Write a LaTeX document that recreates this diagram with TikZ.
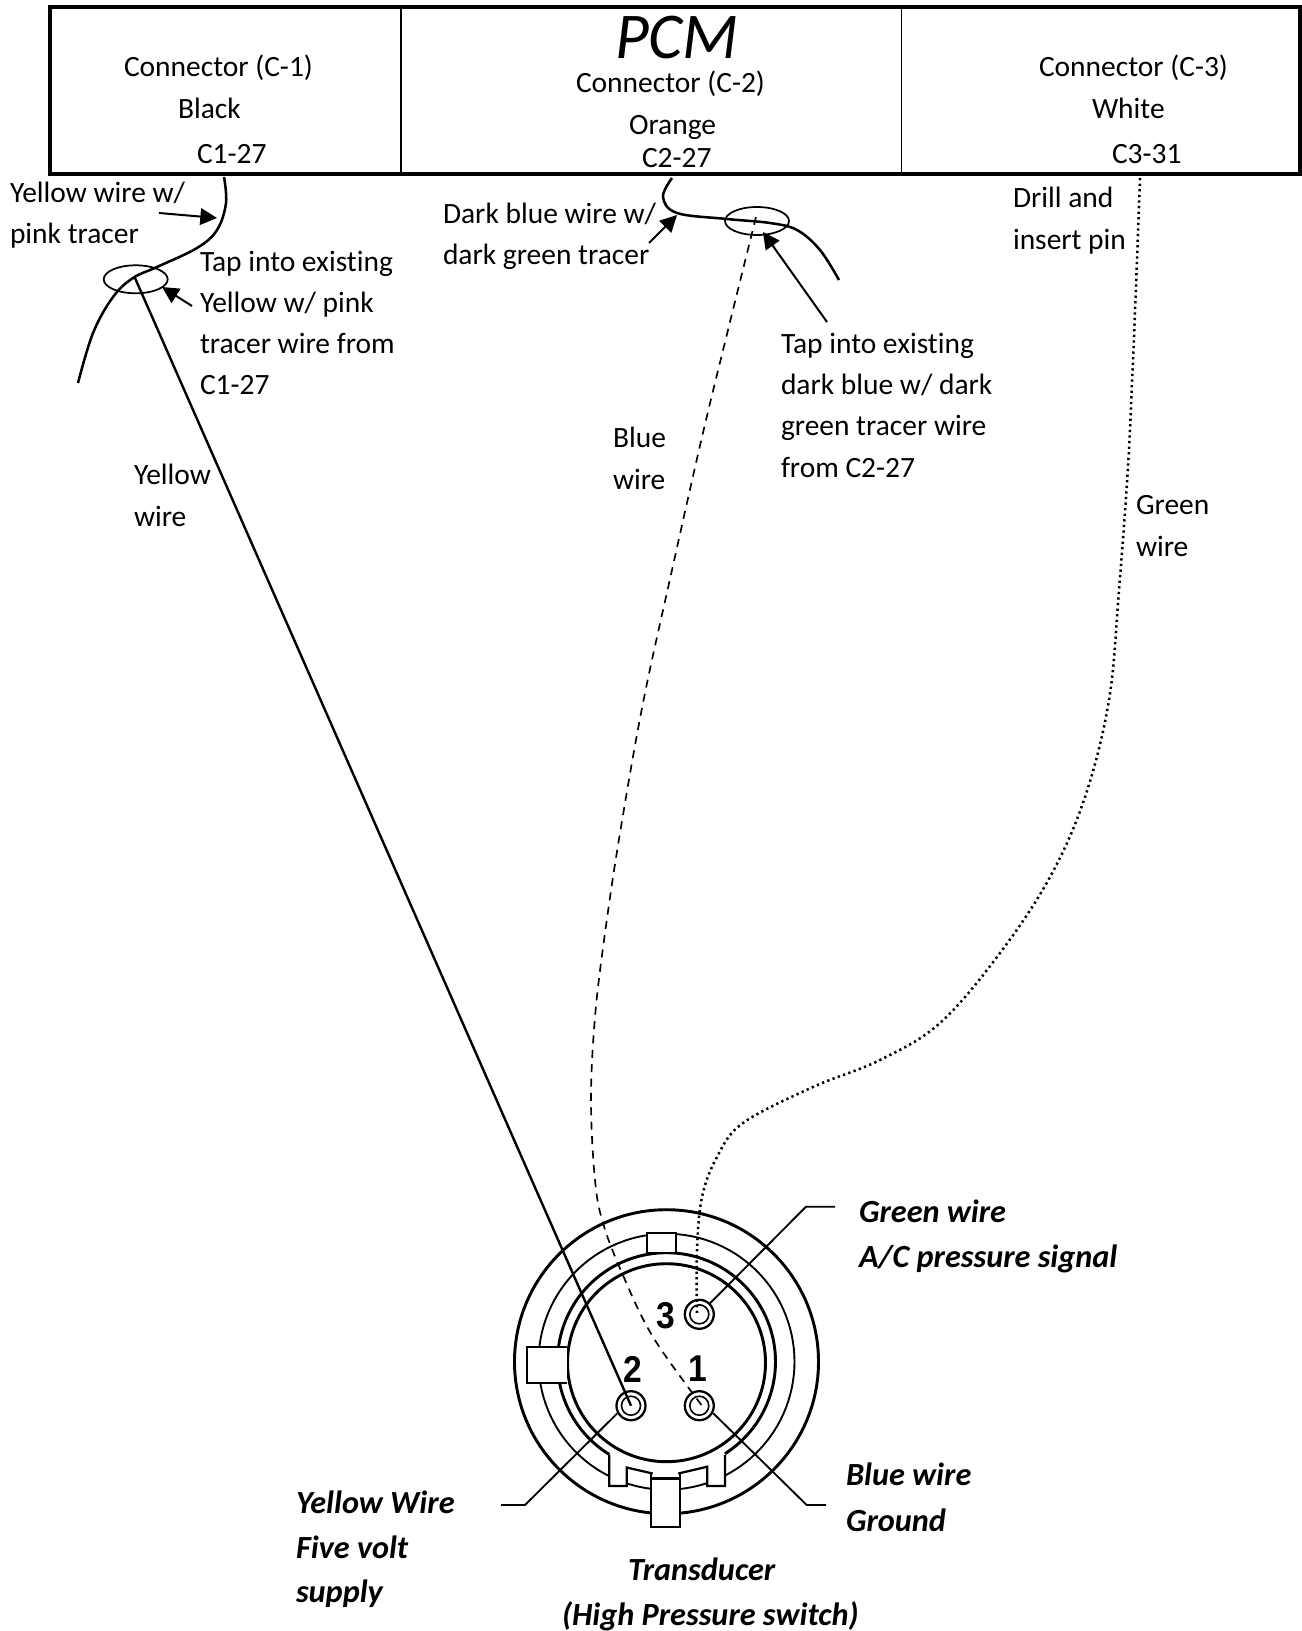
\documentclass[tikz,border=0pt]{standalone}
\usepackage{fontspec}
\setmainfont[Ligatures=NoCommon]{Carlito}
\newfontfamily\digitfont{Liberation Sans}
\usetikzlibrary{arrows.meta}
\tikzset{
  x=0.75pt,y=-0.75pt,
  lbl/.style={anchor=base west,inner sep=0pt,outer sep=0pt,font=\fontsize{22.1pt}{26pt}\selectfont},
  lblbi/.style={anchor=base west,inner sep=0pt,outer sep=0pt,font=\fontsize{24.2pt}{28pt}\selectfont\bfseries\itshape},
  titlelbl/.style={anchor=base west,inner sep=0pt,outer sep=0pt,font=\fontsize{49pt}{54pt}\selectfont\itshape},
  digit/.style={inner sep=0pt,outer sep=0pt,xscale=0.9,font=\fontsize{28pt}{30pt}\digitfont\bfseries},
  wire/.style={line width=1.9pt,line cap=butt},
  dashwire/.style={line width=1.25pt,dash pattern=on 6pt off 4.8pt},
  dotwire/.style={line width=1.9pt,dash pattern=on 1.7pt off 2.5pt},
  pointer/.style={line width=1.5pt,-{Triangle[length=12.5pt,width=12.5pt]}},
  loopmark/.style={line width=1.3pt},
  ringthick/.style={line width=2.2pt},
  ringthin/.style={line width=1.4pt},
  lead/.style={line width=1.4pt},
  tab/.style={line width=1.7pt,fill=white},
}
\begin{document}
\begin{tikzpicture}
\useasboundingbox (0,0) rectangle (1302,1631);
\fill[white] (0,0) rectangle (1302,1631);
% PCM box
\draw[line width=1.2pt] (401,7) -- (401,174);
\draw[line width=1.2pt] (901.5,7) -- (901.5,174);
\draw[line width=3pt] (50,7) rectangle (1300,174);
\node[titlelbl] (pcm) at (615,58) {PCM};
\node[lbl] (c1a) at (124,76) {Connector (C-1)};
\node[lbl] (c1b) at (178,118) {Black};
\node[lbl] (c1c) at (197,163) {C1-27};
\node[lbl] (c2a) at (576,92) {Connector (C-2)};
\node[lbl] (c2b) at (629,134) {Orange};
\node[lbl] (c2c) at (642,167) {C2-27};
\node[lbl] (c3a) at (1039,76) {Connector (C-3)};
\node[lbl] (c3b) at (1092,118) {White};
\node[lbl] (c3c) at (1112,163) {C3-31};
% free labels
\node[lbl] (ya) at (10,202) {Yellow wire w/};
\node[lbl] (yb) at (10,243) {pink tracer};
\node[lbl] (ta1) at (200,271) {Tap into existing};
\node[lbl] (ta2) at (200,312) {Yellow w/ pink};
\node[lbl] (ta3) at (200,353) {tracer wire from};
\node[lbl] (ta4) at (200,394) {C1-27};
\node[lbl] (da) at (443,223) {Dark blue wire w/};
\node[lbl] (db) at (443,264) {dark green tracer};
\node[lbl] (tb1) at (781,353) {Tap into existing};
\node[lbl] (tb2) at (781,394) {dark blue w/ dark};
\node[lbl] (tb3) at (781,435) {green tracer wire};
\node[lbl] (tb4) at (781,477) {from C2-27};
\node[lbl] (bw1) at (613,447) {Blue};
\node[lbl] (bw2) at (613,489) {wire};
\node[lbl] (yw1) at (134,484) {Yellow};
\node[lbl] (yw2) at (134,526) {wire};
\node[lbl] (dr1) at (1013,207) {Drill and};
\node[lbl] (dr2) at (1013,249) {insert pin};
\node[lbl] (gw1) at (1136,514) {Green};
\node[lbl] (gw2) at (1136,556) {wire};
\node[lblbi] (p3a) at (859,1222) {Green wire};
\node[lblbi] (p3b) at (859,1267) {A/C pressure signal};
\node[lblbi] (p2a) at (296,1513) {Yellow Wire};
\node[lblbi] (p2b) at (296,1558) {Five volt};
\node[lblbi] (p2c) at (296,1602) {supply};
\node[lblbi] (p1a) at (846,1485) {Blue wire};
\node[lblbi] (p1b) at (846,1531) {Ground};
\node[lblbi] (tr1) at (628,1580) {Transducer};
\node[lblbi] (tr2) at (562,1625) {(High Pressure switch)};
% transducer rings
\def\cx{666.5}\def\cy{1361.7}
\draw[ringthick] (\cx,\cy) circle[radius=152];
\draw[ringthin] plot[domain=0:360,samples=120] ({\cx+128*cos(\x)},{\cy+128*sin(\x)});
\draw[ringthick] plot[domain=121.6:417.6,samples=120] ({\cx+109*cos(\x)},{\cy+109*sin(\x)});
\draw[ringthick] (\cx,\cy+1) circle[radius=99];
% keys and tabs
\draw[tab] (609.3,1455) -- (609.3,1486) -- (626.7,1486) -- (626.7,1467.5) -- (652.7,1473.5);
\draw[tab] (725,1455) -- (725,1486) -- (707.3,1486) -- (707.3,1466.7) -- (678.3,1473.5);
\draw[tab] (646.7,1253) rectangle (676,1233);
\draw[tab] (567,1347.3) -- (527.3,1347.3) -- (527.3,1383.3) -- (567,1383.3);
\draw[tab] (651,1527) -- (651,1473.5) -- (651,1478.5) -- (680,1478.5) -- (680,1473.5) -- (680,1527) -- cycle;
% pins
\coordinate (pin3) at (699.3,1314.3);
\coordinate (pin2) at (631,1405.7);
\coordinate (pin1) at (699.3,1405.7);
\foreach \p in {pin1,pin2,pin3}{
  \draw[line width=1.7pt] (\p) circle[radius=14.5];
  \draw[line width=1.2pt] (\p) circle[radius=9.5];
}
\node[digit] (d3) at (666.3,1316) {3};
\node[digit] (d2) at (632.7,1369) {2};
\node[digit] (d1) at (698,1369) {1};
% leaders
\coordinate (l3a) at (710,1303.3); \coordinate (l3b) at (806,1206.7); \coordinate (l3c) at (835,1206.7);
\coordinate (l2a) at (617.3,1413.3); \coordinate (l2b) at (525,1505); \coordinate (l2c) at (501,1505);
\coordinate (l1a) at (713.3,1413.3); \coordinate (l1b) at (806.7,1505); \coordinate (l1c) at (826,1505);
\draw[lead] (l3a) -- (l3b) -- (l3c);
\draw[lead] (l2a) -- (l2b) -- (l2c);
\draw[lead] (l1a) -- (l1b) -- (l1c);
% tap wires
\draw[wire] plot[smooth,tension=0.6] coordinates {(224,177) (226,203) (217,230) (197,248) (157,267) (133,278) (113,297) (93,333) (78,383)};
\draw[wire] plot[smooth,tension=0.6] coordinates {(672,178) (663,197) (677,213) (727,219) (770,223) (797,230) (820,250) (839,280)};
\coordinate (tapy) at (135.7,279.3);
\coordinate (tapb) at (757,221);
\draw[loopmark] (tapy) ellipse[x radius=32,y radius=14];
\draw[loopmark] (tapb) ellipse[x radius=32,y radius=14];
% main wires
\coordinate (tapyw) at (135,278);
\draw[line width=1.8pt] (tapyw) -- (pin2);
\draw[dashwire] plot[smooth,tension=0.6] coordinates {(756,217) (728,330) (702,437) (672,570) (643,703) (620,833) (605,933) (595,1017) (591,1100) (595,1180) (603,1223) (622,1273) (653,1337) (703,1407)};
\draw[dotwire] plot[smooth,tension=0.6] coordinates {(1140,178) (1137,260) (1133,360) (1128,467) (1119,590) (1109,700) (1085,797) (1050,877) (1000,953) (940,1023) (880,1060) (813,1087) (743,1123) (717,1157) (702,1197) (697,1250) (697,1313)};
% pointers
\coordinate (a1s) at (159,213); \coordinate (a1e) at (217,218);
\coordinate (a2s) at (192,306); \coordinate (a2e) at (162,287);
\coordinate (a3s) at (649,243); \coordinate (a3e) at (677,215);
\coordinate (a4s) at (827,322); \coordinate (a4e) at (763,232);
\draw[pointer] (a1s) -- (a1e);
\draw[pointer] (a2s) -- (a2e);
\draw[pointer] (a3s) -- (a3e);
\draw[pointer] (a4s) -- (a4e);
\end{tikzpicture}
\end{document}
